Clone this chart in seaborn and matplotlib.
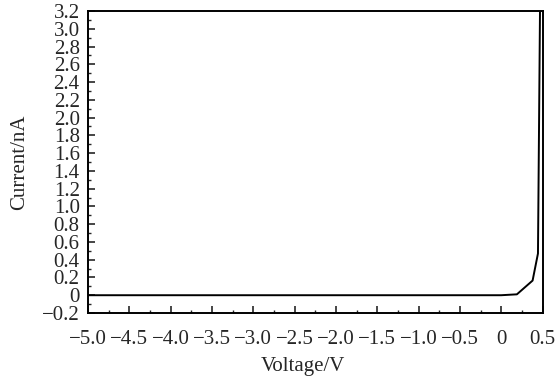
import numpy as np
import matplotlib.pyplot as plt
import seaborn as sns
import pandas as pd
from matplotlib.ticker import MultipleLocator, FuncFormatter

voltage = [-5.0, -4.0, -3.0, -2.0, -1.0, 0.0, 0.19, 0.38, 0.445, 0.47]
current = [0.0, 0.0, 0.0, 0.0, 0.0, 0.0, 0.01, 0.165, 0.47, 3.25]

x_ticks = [-5.0, -4.5, -4.0, -3.5, -3.0, -2.5, -2.0, -1.5, -1.0, -0.5, 0.0, 0.5]
y_ticks = [-0.2 + 0.2 * i for i in range(18)]

sns.set_style("white")
plt.rcParams['font.family'] = ['Liberation Serif', 'DejaVu Serif']
plt.rcParams['axes.unicode_minus'] = True

df = pd.DataFrame({'Voltage': voltage, 'Current': current})

fig = plt.figure(figsize=(5.55, 3.76), dpi=100)
ax = fig.add_axes([0.1586, 0.1676, 0.8189, 0.8031])
sns.lineplot(data=df, x='Voltage', y='Current', ax=ax, color='black', linewidth=1.4)

ax.set_xlim(-5.0, 0.5)
ax.set_ylim(-0.2, 3.2)

def fmt(v, pos):
    if abs(v) < 1e-9:
        return '0'
    return ('%.1f' % v).replace('-', '\u2212')

ax.set_xticks(x_ticks)
ax.set_yticks(y_ticks)
ax.xaxis.set_minor_locator(MultipleLocator(0.25))
ax.yaxis.set_minor_locator(MultipleLocator(0.1))
ax.xaxis.set_major_formatter(FuncFormatter(fmt))
ax.yaxis.set_major_formatter(FuncFormatter(fmt))
ax.tick_params(which='major', direction='in', length=5, width=1.2, labelsize=15, left=True, bottom=True)
ax.tick_params(which='minor', direction='in', length=2.5, width=1.0, left=True, bottom=True)
ax.tick_params(axis='x', pad=12)
ax.tick_params(axis='y', pad=6)

for s in ax.spines.values():
    s.set_color('black')
    s.set_linewidth(1.4)

ax.set_xlabel('Voltage/V', fontsize=15, labelpad=6)
ax.xaxis.label.set_x(0.474)
ax.set_ylabel('Current/nA', fontsize=15, labelpad=9)

fig.savefig('out.png', dpi=100)
